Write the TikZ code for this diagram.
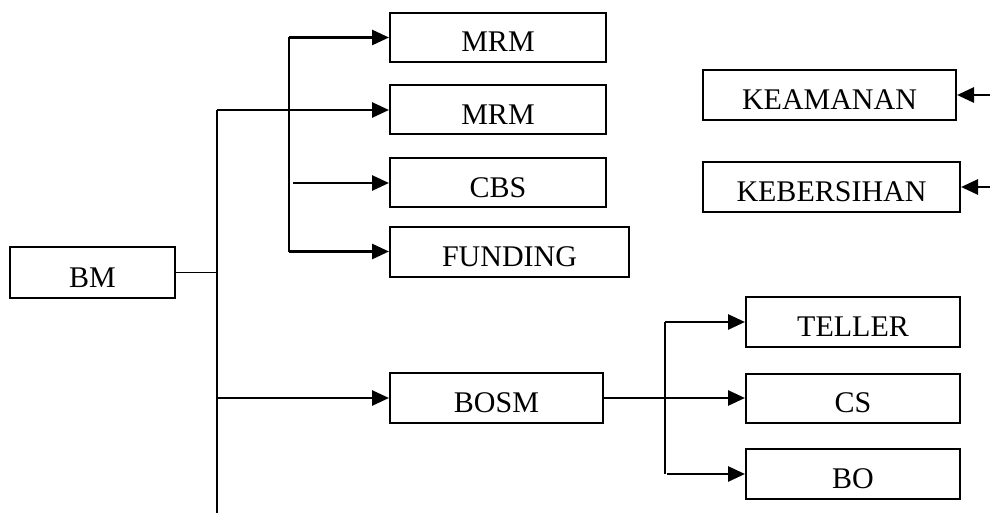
\documentclass[tikz,border=0pt]{standalone}
\usepackage{fontspec}
\setmainfont{Liberation Serif}
\usetikzlibrary{arrows.meta,positioning}
\tikzstyle{box} = [draw=black,line width=2pt,rectangle,inner sep=0pt,minimum height=49pt,text height=29pt,text depth=0pt,font=\fontsize{30}{30}\selectfont]
\tikzstyle{arrow} = [line width=2.8pt,-{Triangle[length=17pt,width=15pt]},draw=black]
\tikzstyle{wire} = [line width=1.5pt,draw=black]

\begin{document}
\begin{tikzpicture}[x=1pt,y=-1pt]
        \useasboundingbox (0,0) rectangle (990,513);
        % boxes
        \node[box,minimum width=165pt,minimum height=51pt](bm) at (92.5,272.5) {BM};
        \node[box,minimum width=216pt](mrma) at (498,37.5) {MRM};
        \node[box,minimum width=216pt](mrmb) at (498,110) {MRM};
        \node[box,minimum width=216pt](cbs) at (498,183) {CBS};
        \node[box,minimum width=239pt,minimum height=50pt](funding) at (509.5,251.5) {FUNDING};
        \node[box,minimum width=253pt,minimum height=50pt](keamanan) at (829.5,95) {KEAMANAN};
        \node[box,minimum width=257pt,minimum height=50pt](kebersihan) at (831.5,187) {KEBERSIHAN};
        \node[box,minimum width=213pt,minimum height=50pt](bosm) at (496.5,398) {BOSM};
        \node[box,minimum width=214pt,minimum height=50pt](teller) at (853,322) {TELLER};
        \node[box,minimum width=214pt](cs) at (853,398) {CS};
        \node[box,minimum width=214pt,minimum height=50pt](bo) at (853,474) {BO};
        % junction points
        \coordinate (ja) at (217,110);
        \coordinate (jb) at (217,513);
        \coordinate (jc) at (217,398);
        \coordinate (ka) at (289,37.5);
        \coordinate (kc) at (293,183);
        \coordinate (kf) at (289,251.5);
        \coordinate (la) at (665,322);
        \coordinate (lc) at (665,398);
        \coordinate (lo) at (667,474);
        \coordinate (ra) at (990,95);
        \coordinate (rb) at (990,187);
        % lines
        \draw[wire] (bm.east) -- (bm.east -| ja);
        \draw[wire] (ja) -- (jb);
        \draw[wire] (ka) -- (kf);
        \draw[wire] (bosm.east) -- (lc);
        \draw[wire] (la) -- (lo -| la);
        \draw[arrow] (ja) -- (mrmb);
        \draw[arrow] (jc) -- (bosm);
        \draw[arrow] (ka) -- (mrma);
        \draw[arrow] (kc) -- (cbs);
        \draw[arrow] (kf) -- (funding);
        \draw[arrow] (la) -- (teller);
        \draw[arrow] (lc) -- (cs);
        \draw[arrow] (lo) -- (bo);
        \draw[arrow] (ra) -- (keamanan);
        \draw[arrow] (rb) -- (kebersihan);
\end{tikzpicture}
\end{document}
